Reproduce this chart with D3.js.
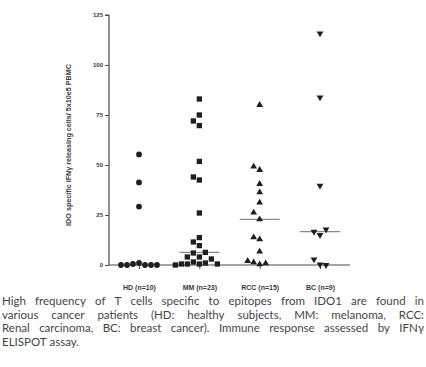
<!DOCTYPE html>
<html>
<head>
<meta charset="utf-8">
<script src="https://cdn.jsdelivr.net/npm/d3@7"></script>
<style>
  html, body { margin: 0; padding: 0; background: #fff; }
  svg { display: block; }
</style>
</head>
<body>
<svg id="chart" width="426" height="367"></svg>
<script>
// groups shown on the x axis
const groups = ['HD', 'MM', 'RCC', 'BC'];
const groupLabels = ['HD (n=10)', 'MM (n=23)', 'RCC (n=15)', 'BC (n=9)'];
const groupShapes = ['circle', 'square', 'triangle', 'triangleDown'];

// IFNg spots per 5x10e5 PBMC
const hdValues = [55.3, 41.3, 29.2, 1, 0.5, 0, 0, 0, 0, 0];
const mmValues = [83, 75, 72, 69.7, 51.8, 42.5, 44, 26, 13.7, 11.5, 9.7, 4, 6, 6.3, 4, 3, 1.5, 1, 0.5, 0.5, 0.5, 0.5, 0];
const rccValues = [80, 47.5, 49.2, 40.5, 36.3, 31.2, 22.8, 26.2, 12.8, 13.8, 6.7, 0.3, 1.3, 0.8, 2];
const bcValues = [115.8, 83.8, 39.7, 15, 16.7, 17.8, 0.3, 2.8, 0];
const medians = [0, 6.3, 22.8, 16.7];

const yTicks = [0, 25, 50, 75, 100, 125];

// caption, one entry per printed line
const captionLines = [
  'High frequency of T cells specific to epitopes from IDO1 are found in',
  'various cancer patients (HD: healthy subjects, MM: melanoma, RCC:',
  'Renal carcinoma, BC: breast cancer). Immune response assessed by IFN\u03b3',
  'ELISPOT assay.'
];

const allValues = [hdValues, mmValues, rccValues, bcValues];

const svg = d3.select('#chart');
const axisColor = '#4a4a4a',
  markColor = '#1e1e1e',
  textColor = '#3a3a3a';

const x = d3.scalePoint().domain(groups).range([139, 320]);
const y = d3.scaleLinear().domain([0, 125]).range([265, 15]);

// y axis
const yAxis = svg.append('g')
  .attr('transform', 'translate(109,0)')
  .call(d3.axisLeft(y).tickValues(yTicks).tickSize(4).tickPadding(2));
yAxis.select('.domain').attr('stroke', axisColor).attr('stroke-width', 1.2)
  .attr('d', `M-4,${y(125)}H0V${y(0)}`);
yAxis.selectAll('.tick line').attr('stroke', axisColor);
yAxis.selectAll('.tick text')
  .attr('fill', textColor)
  .style('font', 'bold 6px Arial, "Liberation Sans", sans-serif');

// x axis
const xAxis = svg.append('g')
  .attr('transform', `translate(0,${y(0)})`)
  .call(d3.axisBottom(x).tickSize(4).tickFormat((d, i) => groupLabels[i]).tickPadding(16));
xAxis.select('.domain').attr('stroke', axisColor).attr('stroke-width', 1.2)
  .attr('d', 'M109,0H350');
xAxis.selectAll('.tick line').attr('stroke', axisColor);
xAxis.selectAll('.tick text')
  .attr('fill', textColor)
  .style('font', 'bold 7px Arial, "Liberation Sans", sans-serif');

// y axis title
svg.append('text')
  .attr('transform', `translate(71,${(y(0) + y(125)) / 2 + 5}) rotate(-90)`)
  .attr('text-anchor', 'middle')
  .attr('fill', textColor)
  .style('font', 'bold 7.2px Arial, "Liberation Sans", sans-serif')
  .text('IDO specific IFN\u03b3 releasing cells/ 5x10e5 PBMC');

// simple slot jitter so close points don't sit on top of each other
const slotStep = 6;
function jitter(values) {
  const placed = [];
  return values.map(v => {
    const py = y(v);
    let k = 0;
    const order = [0, -1, 1, -2, 2, -3, 3, -4, 4];
    for (const s of order) {
      const hit = placed.some(p => p.slot === s && Math.abs(p.py - py) < 7);
      if (!hit) { k = s; break; }
    }
    placed.push({ slot: k, py: py });
    return { value: v, slot: k };
  });
}

const symbolTypes = {
  circle: d3.symbol().type(d3.symbolCircle).size(26),
  square: d3.symbol().type(d3.symbolSquare).size(28),
  triangle: d3.symbol().type(d3.symbolTriangle).size(20),
  triangleDown: d3.symbol().type(d3.symbolTriangle).size(20)
};

// medians first, points on top
groups.forEach((g, i) => {
  if (i === 0) return;
  svg.append('line')
    .attr('x1', x(g) - 20).attr('x2', x(g) + 20)
    .attr('y1', y(medians[i])).attr('y2', y(medians[i]))
    .attr('stroke', '#8a8a8a').attr('stroke-width', 1.2);
});

groups.forEach((g, i) => {
  const pts = jitter(allValues[i]);
  const shape = groupShapes[i];
  svg.append('g').selectAll('path')
    .data(pts)
    .join('path')
    .attr('d', symbolTypes[shape]())
    .attr('transform', d => {
      const tx = x(g) + d.slot * slotStep;
      const ty = y(d.value);
      return shape === 'triangleDown'
        ? `translate(${tx},${ty}) rotate(180)`
        : `translate(${tx},${ty})`;
    })
    .attr('fill', markColor);
});

// justified caption
const capFont = '11.5px Lato, "Open Sans", sans-serif';
const capLeft = 2, capRight = 424, capTop = 305, capLine = 13.5;
const measure = svg.append('text').style('font', capFont);
function wordWidth(w) {
  measure.text(w);
  return measure.node().getComputedTextLength();
}
const spaceW = wordWidth('a a') - wordWidth('aa');

const cap = svg.append('g').attr('fill', '#454545').style('font', capFont);
captionLines.forEach((lineText, li) => {
  const line = lineText.split(' ').map(w => ({ text: w, w: wordWidth(w) }));
  const total = d3.sum(line, d => d.w);
  const last = li === captionLines.length - 1;
  const gap = last ? spaceW : (capRight - capLeft - total) / (line.length - 1);
  let cx = capLeft;
  line.forEach(wd => {
    cap.append('text')
      .attr('x', cx)
      .attr('y', capTop + li * capLine)
      .text(wd.text);
    cx += wd.w + gap;
  });
});
measure.remove();
</script>
</body>
</html>
